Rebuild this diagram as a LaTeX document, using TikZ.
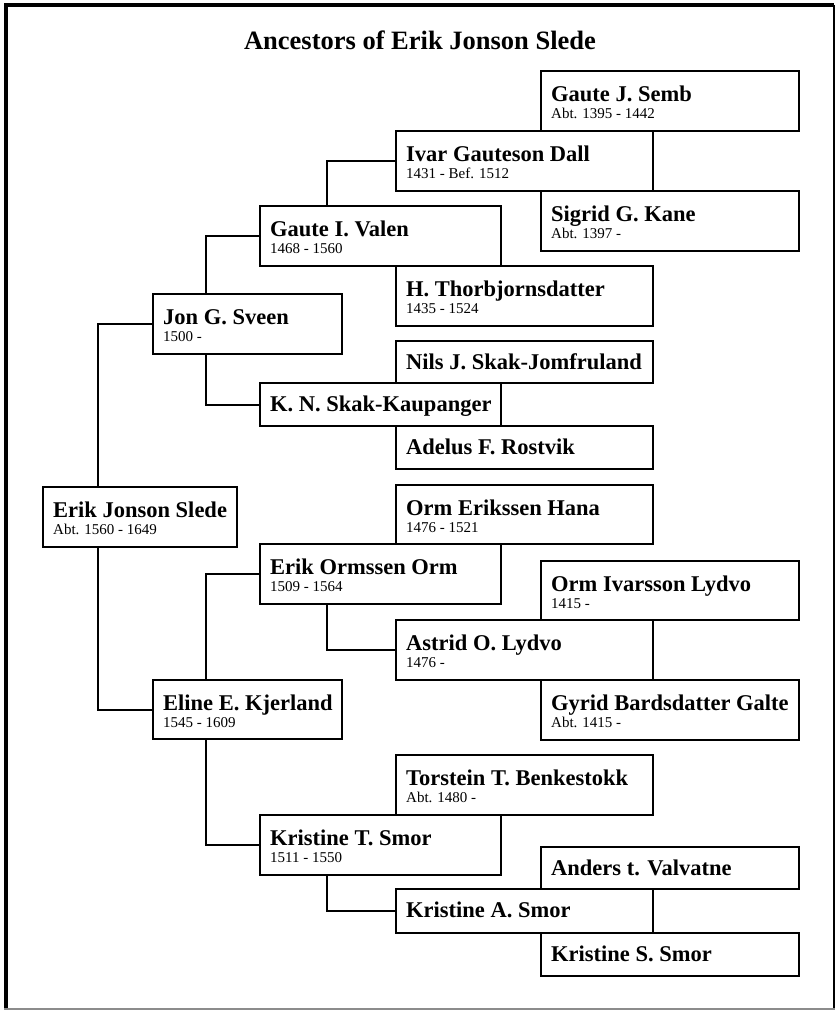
\documentclass[tikz,border=0pt]{standalone}
\usepackage{fontspec}
\setmainfont{Liberation Serif}
\usetikzlibrary{calc}

\tikzset{
  pbox/.style={rectangle, draw=black, line width=2pt, fill=white, inner sep=0pt, outer sep=0pt},
  pname/.style={font=\fontsize{22.5}{24}\selectfont\bfseries, inner sep=0pt, anchor=base west},
  pdate/.style={font=\fontsize{15}{16}\selectfont, inner sep=0pt, anchor=base west},
  link/.style={line width=2pt, draw=black},
}

% person box with name and dates: id, x, y, width, height, name, dates
\newcommand{\persontwo}[7]{%
  \node[pbox, minimum width=#4pt, minimum height=#5pt, anchor=north west] (#1) at (#2,#3) {};
  \node[pname] (#1-n) at ($(#1.north west)+(10,30.5)$) {#6};
  \node[pdate] (#1-d) at ($(#1.north west)+(10,47.5)$) {#7};
}
% person box with name only: id, x, y, width, height, name
\newcommand{\personone}[6]{%
  \node[pbox, minimum width=#4pt, minimum height=#5pt, anchor=north west] (#1) at (#2,#3) {};
  \node[pname] (#1-n) at ($(#1.north west)+(10,28.5)$) {#6};
}

\begin{document}
\begin{tikzpicture}[x=1pt, y=-1pt]
\useasboundingbox (0,0) rectangle (836,1011);
\fill[white] (0,0) rectangle (836,1011);

% page frame
\draw[line width=4pt, black] (5.5,1009) -- (5.5,5.5) -- (834,5.5);
\draw[line width=2.5pt, black] (834,5.5) -- (834,1009);
\draw[line width=2pt, black!45] (4,1009) -- (835,1009);

% title
\node[font=\fontsize{26.5}{28}\selectfont\bfseries, inner sep=0pt, anchor=base] (title) at (420,50) {Ancestors of Erik Jonson Slede};

% generation 5
\persontwo{gjs}{541}{71}{258}{60}{Gaute J. Semb}{Abt. 1395 - 1442}
\persontwo{sgk}{541}{191}{258}{60}{Sigrid G. Kane}{Abt. 1397 -}
\persontwo{oil}{541}{561}{258}{59}{Orm Ivarsson Lydvo}{1415 -}
\persontwo{gbg}{541}{680}{258}{60}{Gyrid Bardsdatter Galte}{Abt. 1415 -}
\personone{atv}{541}{847}{258}{42}{Anders t. Valvatne}
\personone{kss}{541}{933}{258}{43}{Kristine S. Smor}

% generation 4
\persontwo{ivar}{396}{131}{257}{60}{Ivar Gauteson Dall}{1431 - Bef. 1512}
\persontwo{ht}{396}{266}{257}{60}{H. Thorbjornsdatter}{1435 - 1524}
\personone{nils}{396}{341}{257}{42}{Nils J. Skak-Jomfruland}
\personone{adel}{396}{426}{257}{43}{Adelus F. Rostvik}
\persontwo{oeh}{396}{485}{257}{59}{Orm Erikssen Hana}{1476 - 1521}
\persontwo{aol}{396}{620}{257}{60}{Astrid O. Lydvo}{1476 -}
\persontwo{ttb}{396}{755}{257}{60}{Torstein T. Benkestokk}{Abt. 1480 -}
\personone{kas}{396}{889}{257}{44}{Kristine A. Smor}

% generation 3
\persontwo{gv}{260}{206}{241}{60}{Gaute I. Valen}{1468 - 1560}
\personone{kn}{260}{383}{241}{43}{K. N. Skak-Kaupanger}
\persontwo{eo}{260}{544}{241}{60}{Erik Ormssen Orm}{1509 - 1564}
\persontwo{kts}{260}{815}{241}{60}{Kristine T. Smor}{1511 - 1550}

% generation 2
\persontwo{jon}{153}{294}{189}{60}{Jon G. Sveen}{1500 -}
\persontwo{eline}{153}{680}{189}{59}{Eline E. Kjerland}{1545 - 1609}

% generation 1
\persontwo{ejs}{43}{487}{194}{60}{Erik Jonson Slede}{Abt. 1560 - 1649}

% parent links
\draw[link] (jon.west) -| ($(ejs.north west)+(55,0)$);
\draw[link] (eline.west) -| ($(ejs.south west)+(55,0)$);
\draw[link] (gv.west) -| ($(jon.north west)+(53,0)$);
\draw[link] (kn.west) -| ($(jon.south west)+(53,0)$);
\draw[link] (eo.west) -| ($(eline.north west)+(53,0)$);
\draw[link] (kts.west) -| ($(eline.south west)+(53,0)$);
\draw[link] (ivar.west) -| ($(gv.north west)+(67,0)$);
\draw[link] (aol.west) -| ($(eo.south west)+(67,0)$);
\draw[link] (kas.west) -| ($(kts.south west)+(67,0)$);
\end{tikzpicture}
\end{document}
